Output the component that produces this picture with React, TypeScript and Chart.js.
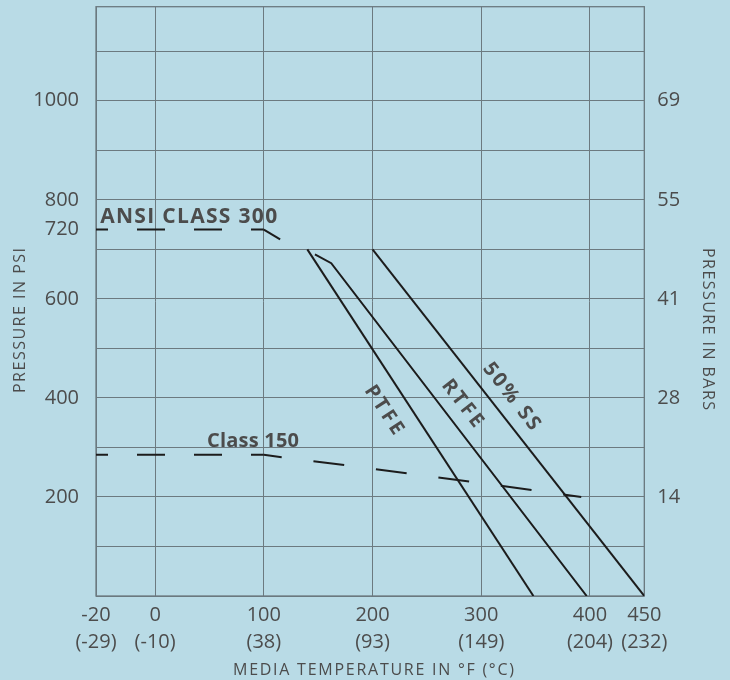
import React, { useEffect, useRef } from "react";
import { Chart, registerables } from "chart.js";

Chart.register(...registerables);

// ---------------- data ----------------
const PSI_PER_BAR = 14.5038;
// the original chart draws the -20..0 °F span wider than the rest of the axis
const NEG_STRETCH = 2.72;

const xTickF = [-20, 0, 100, 200, 300, 400, 450];
const xTickFText = ["-20", "0", "100", "200", "300", "400", "450"];
const xTickCText = ["(-29)", "(-10)", "(38)", "(93)", "(149)", "(204)", "(232)"];

const yGridPsi = [0, 100, 200, 300, 400, 500, 600, 700, 800, 900, 1000, 1100];
const yLabelPsi = [200, 400, 600, 740, 800, 1000];
const yLabelText = ["200", "400", "600", "720", "800", "1000"];
const barLabelPsi = [200, 400, 600, 800, 1000];
const Y_MAX_PSI = 1190;

const ptfeF = [140, 348];
const ptfePsi = [700, 0];
const rtfeF = [147, 162, 397];
const rtfePsi = [690, 672, 0];
const ssF = [200, 450];
const ssPsi = [700, 0];
const class300F = [-20, 100, 115];
const class300Psi = [740, 740, 720];
const class150F = [-20, 100, 200, 300, 392];
const class150Psi = [285, 285, 257, 228, 200];

// ---------------- styles ----------------
const BG = "#b9dbe6";
const GRID = "#6c7a80";
const TEXT = "#4c4c4c";
const LINE = "#1c1c1c";
const FONT = "'Open Sans', 'Liberation Sans', sans-serif";

const toAxis = (f: number) => (f < 0 ? f * NEG_STRETCH : f);
const pts = (fs: number[], ps: number[]) => fs.map((f, i) => ({ x: toAxis(f), y: ps[i] }));

type Ann = { text: string; f: number; psi: number; angle: number; align: CanvasTextAlign; size: number; width: number };
const annotations: Ann[] = [
  { text: "ANSI CLASS 300", f: -18.6, psi: 765, angle: 0, align: "left", size: 21, width: 177 },
  { text: "Class 150", f: 47.7, psi: 313, angle: 0, align: "left", size: 20, width: 92 },
  { text: "PTFE", f: 210.4, psi: 375.6, angle: 56.7, align: "center", size: 20, width: 55 },
  { text: "RTFE", f: 282.6, psi: 388.7, angle: 52, align: "center", size: 20, width: 55 },
  { text: "50% SS", f: 327.8, psi: 402.9, angle: 52, align: "center", size: 20, width: 80 },
];

function drawFitted(ctx: CanvasRenderingContext2D, text: string, x: number, y: number, target: number, align: CanvasTextAlign) {
  (ctx as any).letterSpacing = "0px";
  const w = ctx.measureText(text).width;
  let ls = (target - w) / Math.max(1, text.length - 1);
  ls = Math.max(-1.5, Math.min(8, ls));
  (ctx as any).letterSpacing = ls + "px";
  ctx.textAlign = align;
  const shift = align === "center" ? ls / 2 : 0;
  ctx.fillText(text, x + shift, y);
  (ctx as any).letterSpacing = "0px";
}

const zeroPad = (s: any) => {
  s.paddingTop = 0;
  s.paddingBottom = 0;
  s.paddingLeft = 0;
  s.paddingRight = 0;
};

const overlay = {
  id: "overlay",
  beforeDatasetsDraw(chart: any) {
    const { ctx, chartArea: a } = chart;
    ctx.save();
    ctx.strokeStyle = GRID;
    ctx.lineWidth = 1.3;
    ctx.strokeRect(a.left, a.top, a.right - a.left, a.bottom - a.top);
    ctx.restore();
  },
  afterDraw(chart: any) {
    const { ctx } = chart;
    const xs = chart.scales.x;
    const ys = chart.scales.y;
    ctx.save();
    ctx.fillStyle = TEXT;
    ctx.textBaseline = "middle";
    for (const a of annotations) {
      const px = xs.getPixelForValue(toAxis(a.f));
      const py = ys.getPixelForValue(a.psi);
      ctx.save();
      ctx.translate(px, py);
      ctx.rotate((a.angle * Math.PI) / 180);
      ctx.font = `bold ${a.size}px ${FONT}`;
      drawFitted(ctx, a.text, 0, 0, a.width, a.align);
      ctx.restore();
    }
    // axis titles
    ctx.font = `16px ${FONT}`;
    ctx.save();
    ctx.translate(20, 320.5);
    ctx.rotate(-Math.PI / 2);
    drawFitted(ctx, "PRESSURE IN PSI", 0, 0, 145, "center");
    ctx.restore();
    ctx.save();
    ctx.translate(707.5, 329);
    ctx.rotate(Math.PI / 2);
    drawFitted(ctx, "PRESSURE IN BARS", 0, 0, 162, "center");
    ctx.restore();
    drawFitted(ctx, "MEDIA TEMPERATURE IN °F (°C)", 373.5, 670.5, 281, "center");
    ctx.restore();
  },
};

export default function App() {
  const ref = useRef<HTMLCanvasElement | null>(null);
  useEffect(() => {
    if (!ref.current) return;
    const tickFont = { family: FONT, size: 20, lineHeight: 1.35 };
    const chart = new Chart(ref.current, {
      type: "line",
      data: {
        datasets: [
          { label: "PTFE", data: pts(ptfeF, ptfePsi) },
          { label: "RTFE", data: pts(rtfeF, rtfePsi) },
          { label: "50% SS", data: pts(ssF, ssPsi) },
          {
            label: "ANSI Class 300",
            data: pts(class300F, class300Psi),
            borderDash: [28, 29],
            borderDashOffset: 16,
            segment: { borderDash: (c: any) => (c.p0.parsed.x >= 100 ? [] : undefined) },
          },
          {
            label: "Class 150",
            data: pts(class150F, class150Psi),
            borderDash: [28, 29],
            borderDashOffset: 16,
            segment: {
              borderDash: (c: any) => (c.p0.parsed.x >= 100 ? [31, 32] : undefined),
              borderDashOffset: (c: any) => (c.p0.parsed.x >= 100 ? 13 : undefined),
            },
          },
        ].map((d) => ({
          borderColor: LINE,
          borderWidth: 2,
          pointRadius: 0,
          fill: false,
          tension: 0,
          xAxisID: "x",
          yAxisID: "y",
          ...d,
        })) as any,
      },
      options: {
        animation: false,
        responsive: true,
        maintainAspectRatio: false,
        layout: { padding: { top: 6.7, left: 0, right: 0, bottom: 0 } },
        plugins: { legend: { display: false }, tooltip: { enabled: false } },
        events: [],
        scales: {
          x: {
            type: "linear",
            min: toAxis(-20),
            max: 450,
            afterBuildTicks: (s: any) => {
              s.ticks = xTickF.map((f) => ({ value: toAxis(f) }));
            },
            afterFit: (s: any) => {
              s.height = 84;
              zeroPad(s);
            },
            ticks: {
              autoSkip: false,
              maxRotation: 0,
              minRotation: 0,
              padding: 6,
              color: TEXT,
              font: tickFont,
              callback: (_v: any, i: number) => [xTickFText[i], xTickCText[i]],
            },
            grid: { color: GRID, lineWidth: 1, drawTicks: false },
            border: { display: false },
          },
          y: {
            type: "linear",
            position: "left",
            min: 0,
            max: Y_MAX_PSI,
            afterBuildTicks: (s: any) => {
              const vals = Array.from(new Set([...yGridPsi, ...yLabelPsi])).sort((a, b) => a - b);
              s.ticks = vals.map((v) => ({ value: v }));
            },
            afterFit: (s: any) => {
              s.width = 96;
              zeroPad(s);
            },
            ticks: {
              autoSkip: false,
              padding: 17,
              color: TEXT,
              font: tickFont,
              callback: (v: any) => {
                const i = yLabelPsi.indexOf(Number(v));
                return i >= 0 ? yLabelText[i] : "";
              },
            },
            grid: {
              drawTicks: false,
              lineWidth: 1,
              color: (c: any) => (c.tick && yGridPsi.includes(c.tick.value) ? GRID : "rgba(0,0,0,0)"),
            },
            border: { display: false },
          },
          bar: {
            type: "linear",
            position: "right",
            min: 0,
            max: Y_MAX_PSI / PSI_PER_BAR,
            afterBuildTicks: (s: any) => {
              s.ticks = barLabelPsi.map((p) => ({ value: p / PSI_PER_BAR }));
            },
            afterFit: (s: any) => {
              s.width = 85.7;
              zeroPad(s);
            },
            ticks: {
              autoSkip: false,
              padding: 13,
              color: TEXT,
              font: tickFont,
              callback: (v: any) => String(Math.round(Number(v))),
            },
            grid: { display: false, drawTicks: false },
            border: { display: false },
          },
        },
      } as any,
      plugins: [overlay],
    });
    return () => chart.destroy();
  }, []);

  return (
    <div style={{ position: "absolute", left: 0, top: 0, width: 730, height: 680, background: BG }}>
      <canvas ref={ref} />
    </div>
  );
}
